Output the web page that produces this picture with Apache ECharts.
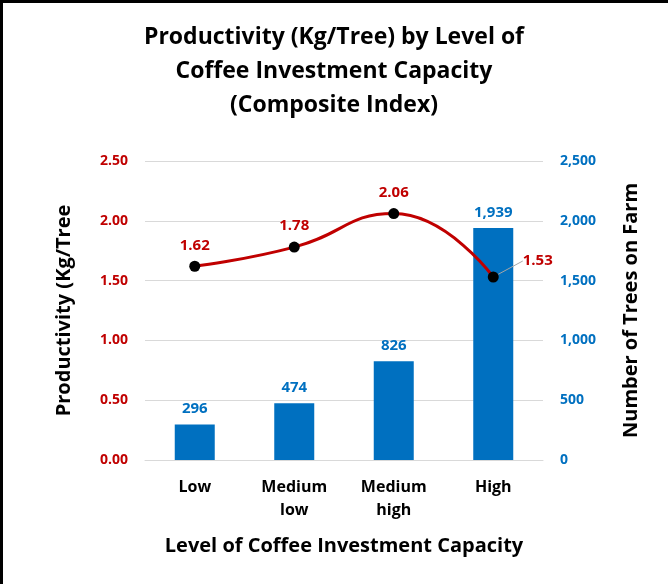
<!DOCTYPE html>
<html>
<head>
<meta charset="utf-8">
<script src="https://cdn.jsdelivr.net/npm/echarts@6/dist/echarts.min.js"></script>
<style>
  html, body { margin: 0; padding: 0; background: #fff; }
  #chart { width: 668px; height: 584px; }
</style>
</head>
<body>
<div id="chart"></div>
<script>
// 数据
const categories = ['Low', 'Medium\nlow', 'Medium\nhigh', 'High'];
const productivity = [1.62, 1.78, 2.06, 1.53];   // Kg/Tree (left axis)
const trees = [296, 474, 826, 1939];              // trees on farm (right axis)

const chart = echarts.init(document.getElementById('chart'));
const font = '"Open Sans", Lato, sans-serif';

const option = {
  textStyle: { fontFamily: font },
  title: {
    text: 'Productivity (Kg/Tree) by Level of\nCoffee Investment Capacity\n(Composite Index)',
    left: 'center',
    top: 15,
    textStyle: { fontFamily: font, fontSize: 23, fontWeight: 'bold', color: '#000', lineHeight: 34 }
  },
  graphic: [
    { type: 'rect', shape: { x: 0, y: 0, width: 668, height: 3 }, style: { fill: '#000' } },
    { type: 'rect', shape: { x: 0, y: 0, width: 3, height: 584 }, style: { fill: '#000' } }
  ],
  grid: { left: 145, right: 125, top: 161, bottom: 124 },
  xAxis: {
    type: 'category',
    data: categories,
    name: 'Level of Coffee Investment Capacity',
    nameLocation: 'middle',
    nameGap: 76,
    nameTextStyle: { fontSize: 20, fontWeight: 'bold', color: '#000' },
    axisLine: { lineStyle: { color: '#d9d9d9' } },
    axisTick: { show: false },
    axisLabel: { fontSize: 16, fontWeight: 'bold', color: '#000', margin: 16, lineHeight: 23 }
  },
  yAxis: [
    {
      type: 'value',
      min: 0, max: 2.5, interval: 0.5,
      name: 'Productivity (Kg/Tree',
      nameLocation: 'middle',
      nameRotate: 90,
      nameGap: 71,
      nameTextStyle: { fontSize: 20, fontWeight: 'bold', color: '#000' },
      axisLine: { show: false },
      axisTick: { show: false },
      splitLine: { lineStyle: { color: '#d9d9d9' } },
      axisLabel: { fontSize: 14, fontWeight: 'bold', color: '#C00000', margin: 17,
        formatter: v => v.toFixed(2) }
    },
    {
      type: 'value',
      min: 0, max: 2500, interval: 500,
      name: 'Number of Trees on Farm',
      nameLocation: 'middle',
      nameRotate: 90,
      nameGap: 78,
      nameTextStyle: { fontSize: 20, fontWeight: 'bold', color: '#000' },
      axisLine: { show: false },
      axisTick: { show: false },
      splitLine: { show: false },
      axisLabel: { fontSize: 14, fontWeight: 'bold', color: '#0070C0', margin: 17,
        formatter: v => v.toLocaleString('en-US') }
    }
  ],
  series: [
    {
      name: 'Number of Trees',
      type: 'bar',
      yAxisIndex: 1,
      data: trees,
      barWidth: 40,
      itemStyle: { color: '#0070C0' },
      label: {
        show: true, position: 'top', distance: 8,
        fontSize: 15, fontWeight: 'bold', color: '#0070C0',
        formatter: p => p.value.toLocaleString('en-US')
      }
    },
    {
      name: 'Productivity',
      type: 'line',
      yAxisIndex: 0,
      data: productivity.map((v, i) => i === 3
        ? { value: v, label: { position: 'right', distance: 4 },
            labelLine: { show: true, lineStyle: { color: '#a6a6a6', width: 1 } } }
        : v),
      smooth: 0.5,
      symbol: 'circle',
      symbolSize: 11,
      lineStyle: { color: '#C00000', width: 3 },
      itemStyle: { color: '#000' },
      label: {
        show: true, position: 'top', distance: 8,
        fontSize: 15, fontWeight: 'bold', color: '#C00000',
        formatter: p => p.value.toFixed(2)
      },
      labelLayout: p => p.dataIndex === 3 ? { dx: 20, dy: -16 } : {},
      z: 5
    }
  ]
};

chart.setOption(option);
</script>
</body>
</html>
